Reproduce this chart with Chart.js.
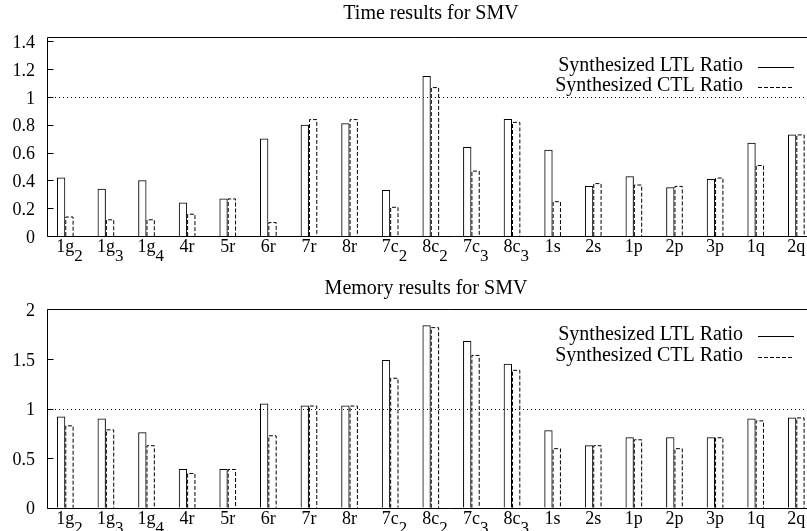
<!DOCTYPE html>
<html><head><meta charset="utf-8">
<script src="https://cdn.jsdelivr.net/npm/chart.js@4"></script>
<style>
html,body{margin:0;padding:0;background:#fff;overflow:hidden;width:807px;height:531px;}
#c1{position:absolute;left:0;top:0;}
#c2{position:absolute;left:0;top:270px;}
</style></head><body>
<canvas id="c1" width="862" height="270"></canvas>
<canvas id="c2" width="852" height="261"></canvas>
<script>
// ---- data ----
const categories = ['1g_2','1g_3','1g_4','4r','5r','6r','7r','8r','7c_2','8c_2','7c_3','8c_3','1s','2s','1p','2p','3p','1q','2q'];
const seriesLabels = ['Synthesized LTL Ratio','Synthesized CTL Ratio'];
const timeLTL = [0.42,0.34,0.40,0.24,0.27,0.70,0.80,0.81,0.33,1.15,0.64,0.84,0.62,0.36,0.43,0.35,0.41,0.67,0.73];
const timeCTL = [0.14,0.12,0.12,0.16,0.27,0.10,0.84,0.84,0.21,1.07,0.47,0.82,0.25,0.38,0.37,0.36,0.42,0.51,0.73];
const memLTL  = [0.92,0.90,0.76,0.39,0.39,1.05,1.03,1.03,1.49,1.84,1.68,1.45,0.78,0.63,0.71,0.71,0.71,0.90,0.91];
const memCTL  = [0.83,0.79,0.63,0.35,0.39,0.73,1.03,1.03,1.31,1.82,1.54,1.39,0.60,0.63,0.69,0.60,0.71,0.88,0.91];
const timeTicks = [0,0.2,0.4,0.6,0.8,1,1.2,1.4];
const timeTickLabels = ['0','0.2','0.4','0.6','0.8','1','1.2','1.4'];
const memTicks = [0,0.5,1,1.5,2];
const memTickLabels = ['0','0.5','1','1.5','2'];
const referenceValue = 1;
const titles = ['Time results for SMV','Memory results for SMV'];

const FONT = 'Liberation Serif, Times New Roman, serif';

const gnuplotLook = {
  id: 'gnuplotLook',
  afterDatasetsDraw(chart, args, opts) {
    const ctx = chart.ctx;
    const ca = chart.chartArea;
    const y = chart.scales.y;
    // dashed CTL bars
    const meta = chart.getDatasetMeta(1);
    ctx.save();
    ctx.strokeStyle = '#000';
    ctx.lineWidth = 1;
    ctx.setLineDash([4, 2]);
    meta.data.forEach(el => {
      const p = el.getProps(['x','y','base','width'], true);
      const l = p.x - p.width / 2 + 0.5, r = p.x + p.width / 2 - 0.5, t = p.y + 0.5;
      ctx.beginPath();
      ctx.moveTo(l, p.base);
      ctx.lineTo(l, t);
      ctx.lineTo(r, t);
      ctx.lineTo(r, p.base);
      ctx.stroke();
    });
    ctx.restore();
    // reference dotted line
    const ry = Math.round(y.getPixelForValue(referenceValue)) + 0.5;
    ctx.save();
    ctx.strokeStyle = '#000';
    ctx.lineWidth = 1;
    ctx.setLineDash([1, 3]);
    ctx.beginPath();
    ctx.moveTo(ca.left, ry);
    ctx.lineTo(chart.width, ry);
    ctx.stroke();
    ctx.restore();
  },
  afterDraw(chart, args, opts) {
    const ctx = chart.ctx;
    const ca = chart.chartArea;
    const y = chart.scales.y, x = chart.scales.x;
    ctx.save();
    ctx.strokeStyle = '#000';
    ctx.lineWidth = 1;
    // frame
    const L = Math.round(ca.left) + 0.5, T = Math.round(ca.top) + 0.5, B = Math.round(ca.bottom) + 0.5;
    ctx.beginPath();
    ctx.moveTo(chart.width, T); ctx.lineTo(L, T); ctx.lineTo(L, B); ctx.lineTo(chart.width, B);
    ctx.stroke();
    // inward y ticks
    y.ticks.forEach(t => {
      const py = Math.round(y.getPixelForValue(t.value)) + 0.5;
      ctx.beginPath(); ctx.moveTo(L, py); ctx.lineTo(L + 6, py); ctx.stroke();
    });
    // legend
    const R = opts.legendRight;
    ctx.fillStyle = '#000';
    ctx.font = '20px ' + FONT;
    ctx.textAlign = 'right';
    ctx.textBaseline = 'middle';
    chart.data.datasets.forEach((ds, i) => {
      const ry = ca.top + opts.legendRows[i];
      ctx.fillText(ds.label, R - 72, ry - 1);
      ctx.setLineDash(i === 0 ? [] : [4, 2]);
      ctx.beginPath();
      ctx.moveTo(R - 57, Math.round(ry) + 0.5);
      ctx.lineTo(R - 21, Math.round(ry) + 0.5);
      ctx.stroke();
    });
    ctx.setLineDash([]);
    // x category labels with subscripts
    const base = ca.bottom + 16;
    ctx.textBaseline = 'alphabetic';
    categories.forEach((c, i) => {
      const parts = c.split('_');
      const px = x.getPixelForValue(i);
      ctx.font = '18px ' + FONT;
      ctx.textAlign = 'center';
      ctx.fillText(parts[0], px, base);
      if (parts[1]) {
        const w = ctx.measureText(parts[0]).width;
        ctx.textAlign = 'left';
        ctx.font = '17px ' + FONT;
        ctx.fillText(parts[1], px + w / 2, base + 9);
      }
    });
    ctx.restore();
  }
};

function makeChart(id, title, ltl, ctl, tickVals, tickLabels, ymax, xmax, titlePad, layoutPad, legendRows) {
  return new Chart(document.getElementById(id), {
    type: 'bar',
    data: {
      datasets: [
        { label: seriesLabels[0], data: ltl.map((v, i) => ({x: i, y: v})),
          backgroundColor: 'rgba(0,0,0,0)', borderColor: '#000', borderWidth: 1, borderSkipped: 'start',
          categoryPercentage: 0.4102, barPercentage: 1 },
        { label: seriesLabels[1], data: ctl.map((v, i) => ({x: i, y: v})),
          backgroundColor: 'rgba(0,0,0,0)', borderColor: 'rgba(0,0,0,0)', borderWidth: 0,
          categoryPercentage: 0.4102, barPercentage: 1 }
      ]
    },
    options: {
      responsive: false,
      animation: false,
      devicePixelRatio: 1,
      layout: { padding: layoutPad },
      scales: {
        x: { type: 'linear', display: false, min: -0.45, max: xmax, offset: false },
        y: {
          type: 'linear', min: 0, max: ymax,
          afterBuildTicks: s => { s.ticks = tickVals.map(v => ({value: v})); },
          afterFit: s => { s.width = 47; },
          ticks: {
            font: { family: FONT, size: 18 }, color: '#000', padding: 12, labelOffset: 2,
            callback: (v, i) => tickLabels[i]
          },
          grid: { display: false, drawTicks: false },
          border: { display: false }
        }
      },
      plugins: {
        legend: { display: false },
        tooltip: { enabled: false },
        title: {
          display: true, text: title, color: '#000', fullSize: false,
          font: { family: FONT, size: 20, weight: 'normal', lineHeight: 1.2 },
          padding: titlePad
        },
        gnuplotLook: { legendRows, legendRight: 815 }
      }
    },
    plugins: [gnuplotLook]
  });
}

makeChart('c1', titles[0], timeLTL, timeCTL, timeTicks, timeTickLabels, 1.43, 18.46,
  {top: 2, bottom: 11}, {left: 0, right: 47, top: 0, bottom: 34}, [30, 49.7]);
makeChart('c2', titles[1], memLTL, memCTL, memTicks, memTickLabels, 2.0, 18.215,
  {top: 6.3, bottom: 9}, {left: 0, right: 47, top: 0, bottom: 23.3}, [26.7, 47.7]);
</script>
</body></html>
